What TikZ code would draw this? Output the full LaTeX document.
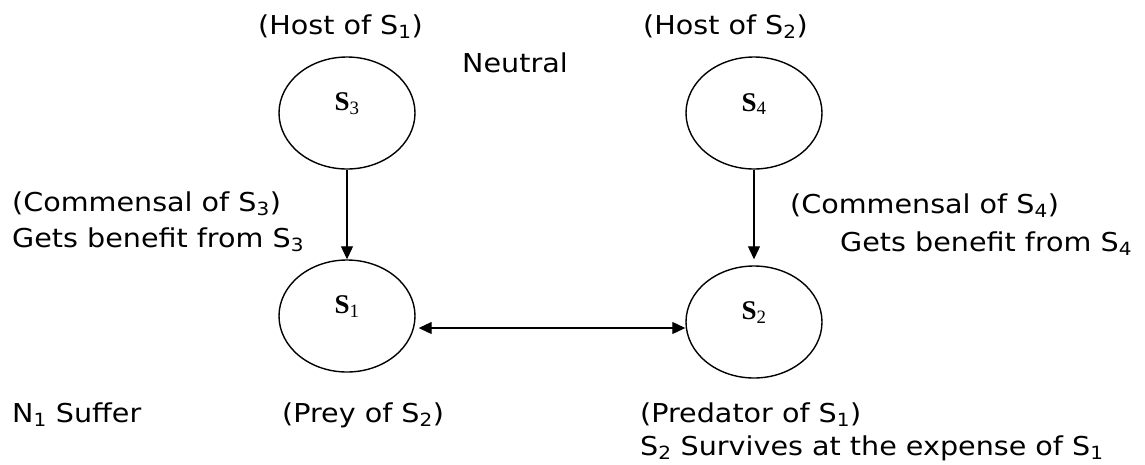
\documentclass[tikz,border=0pt]{standalone}
\usepackage{fontspec}
\setmainfont{DejaVu Sans}[FakeStretch=1.1]
\newfontfamily\serifS{Liberation Serif}
\usetikzlibrary{arrows.meta,shapes.geometric}
\newcommand\dn[1]{\textsubscript{#1}}
\newcommand\spn[1]{\textbf{S}\textsubscript{#1}}
\begin{document}
\begin{tikzpicture}[x=1pt,y=-1pt,
  sp/.style={ellipse,draw,line width=1.4pt,minimum width=136pt,minimum height=112pt,inner sep=0pt},
  lab/.style={inner sep=0pt,font=\serifS\fontsize{27}{27}\selectfont},
  txt/.style={anchor=base west,inner sep=0pt,font=\fontsize{26}{30}\selectfont},
  arr/.style={line width=1.1pt,-{Triangle[length=13pt,width=12pt]}},
  darr/.style={line width=1.1pt,{Triangle[length=13pt,width=12pt]}-{Triangle[length=13pt,width=12pt]}}]
\useasboundingbox (0,0) rectangle (1145,464);
% species
\node[sp] (s3) at (347,113) {};
\node[sp] (s1) at (347,316) {};
\node[sp] (s4) at (754,113) {};
\node[sp] (s2) at (754,322) {};
\node[lab] (l3) at ([yshift=9pt]s3.center) {\spn{3}};
\node[lab] (l1) at ([yshift=9pt]s1.center) {\spn{1}};
\node[lab] (l4) at ([yshift=9pt]s4.center) {\spn{4}};
\node[lab] (l2) at ([yshift=9pt]s2.center) {\spn{2}};
% connectors
\draw[arr] (s3) -- (s1);
\draw[arr,shorten >=6pt] (s4) -- (s2);
\draw[darr] ([xshift=3pt,yshift=-12pt]s1.east) -- ([yshift=-6pt]s2.west);
% texts
\node[txt] (h1) at (258,34) {(Host of S\dn{1})};
\node[txt] (neu) at (462,72) {Neutral};
\node[txt] (h2) at (643,34) {(Host of S\dn{2})};
\node[txt] (c3) at (12,211) {(Commensal of S\dn{3})};
\node[txt] (g3) at (12,247) {Gets benefit from S\dn{3}};
\node[txt] (c4) at (790,213) {(Commensal of S\dn{4})};
\node[txt] (g4) at (840,251) {Gets benefit from S\dn{4}};
\node[txt] (n1) at (12,422) {N\dn{1} Suffer};
\node[txt] (prey) at (282,422) {(Prey of S\dn{2})};
\node[txt] (pred) at (640,422) {(Predator of S\dn{1})};
\node[txt] (surv) at (640,455) {S\dn{2} Survives at the expense of S\dn{1}};
\end{tikzpicture}
\end{document}
